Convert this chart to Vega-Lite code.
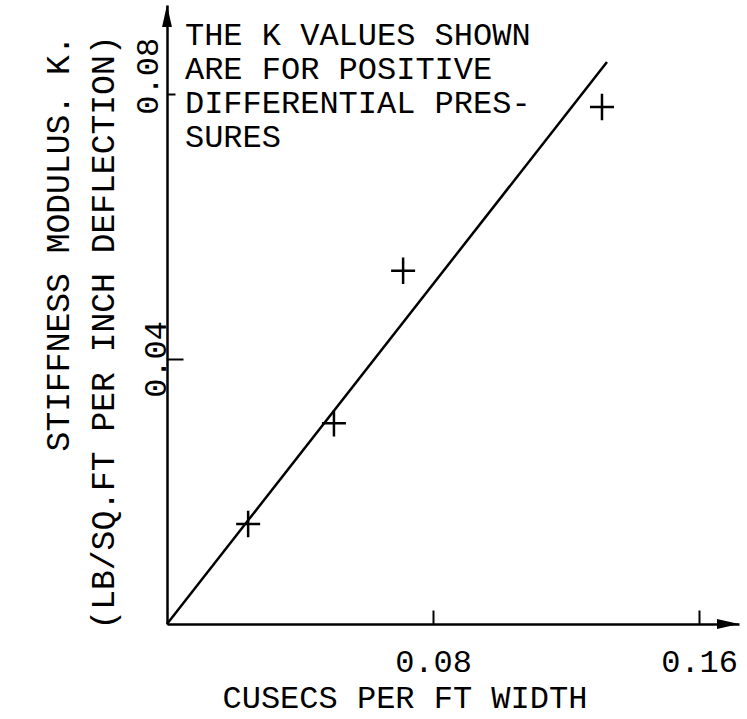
{
  "$schema": "https://vega.github.io/schema/vega-lite/v6.json",
  "width": 572,
  "height": 619,
  "autosize": {"type": "none"},
  "padding": {"left": 167, "top": 5, "right": 8, "bottom": 95},
  "background": "white",
  "config": {
    "view": {"stroke": null},
    "font": "Liberation Mono",
    "axis": {
      "labelFont": "Liberation Mono",
      "titleFont": "Liberation Mono",
      "labelColor": "black",
      "titleColor": "black",
      "domainColor": "black",
      "tickColor": "black",
      "domainWidth": 2.5,
      "tickWidth": 2,
      "grid": false,
      "titleFontWeight": "normal"
    }
  },
  "datasets": {
    "points": [
      {"q": 0.0244, "k": 0.0151},
      {"q": 0.0502, "k": 0.0303},
      {"q": 0.0710, "k": 0.0533},
      {"q": 0.1308, "k": 0.0780}
    ],
    "fit": [
      {"q": 0.0, "k": 0.0},
      {"q": 0.1323, "k": 0.0848}
    ],
    "one": [{}]
  },
  "layer": [
    {
      "data": {"name": "fit"},
      "mark": {"type": "line", "color": "black", "strokeWidth": 2.5},
      "encoding": {
        "x": {
          "field": "q",
          "type": "quantitative",
          "scale": {"domain": [0, 0.172], "nice": false, "zero": false},
          "axis": {
            "values": [0.08, 0.16],
            "format": ".2f",
            "labelFontSize": 32,
            "labelBaseline": "top",
            "labelAlign": "center",
            "tickSize": -14,
            "labelPadding": 36,
            "title": "CUSECS PER FT WIDTH",
            "titleFontSize": 32,
            "titleAnchor": "start",
            "titleAlign": "left",
            "titleBaseline": "alphabetic",
            "titleX": 55,
            "titleY": 83
          }
        },
        "y": {
          "field": "k",
          "type": "quantitative",
          "scale": {"domain": [0, 0.0934], "nice": false, "zero": false},
          "axis": {
            "values": [0.04, 0.08],
            "format": ".2f",
            "labelFontSize": 32,
            "labelAngle": 270,
            "labelAlign": "center",
            "labelBaseline": "alphabetic",
            "tickSize": {"condition": {"test": "datum.value > 0.06", "value": -8}, "value": -16},
            "labelOffset": {"condition": {"test": "datum.value > 0.06", "value": -18}, "value": 0},
            "labelPadding": 18,
            "title": ["STIFFNESS MODULUS. K.", "(LB/SQ.FT PER INCH DEFLECTION)"],
            "titleFontSize": 33,
            "titleAngle": 270,
            "titleAlign": "right",
            "titleBaseline": "top",
            "titleAnchor": "end",
            "titleX": -125,
            "titleY": 30,
            "titleLineHeight": 45
          }
        }
      }
    },
    {
      "data": {"name": "points"},
      "mark": {"type": "point", "shape": "M-1,0L1,0M0,-1.1L0,1.1", "filled": false, "size": 576, "stroke": "black", "strokeWidth": 2.5, "opacity": 1},
      "encoding": {
        "x": {"field": "q", "type": "quantitative"},
        "y": {"field": "k", "type": "quantitative"}
      }
    },
    {
      "data": {"name": "one"},
      "mark": {"type": "point", "shape": "M-2,-0.45L0,0L-2,0.45Z", "filled": true, "size": 484, "color": "black", "opacity": 1},
      "encoding": {
        "x": {"datum": 0.172, "type": "quantitative"},
        "y": {"datum": 0, "type": "quantitative"}
      }
    },
    {
      "data": {"name": "one"},
      "mark": {"type": "point", "shape": "M-0.45,2L0,0L0.45,2Z", "filled": true, "size": 484, "color": "black", "opacity": 1},
      "encoding": {
        "x": {"datum": 0, "type": "quantitative"},
        "y": {"datum": 0.0934, "type": "quantitative"}
      }
    },
    {
      "data": {"name": "one"},
      "mark": {
        "type": "text",
        "text": ["THE K VALUES SHOWN", "ARE FOR POSITIVE", "DIFFERENTIAL PRES-", "SURES"],
        "font": "Liberation Mono",
        "fontSize": 32,
        "lineHeight": 34,
        "align": "left",
        "baseline": "alphabetic",
        "color": "black"
      },
      "encoding": {
        "x": {"datum": 0.0054, "type": "quantitative"},
        "y": {"datum": 0.0874, "type": "quantitative"}
      }
    }
  ]
}
